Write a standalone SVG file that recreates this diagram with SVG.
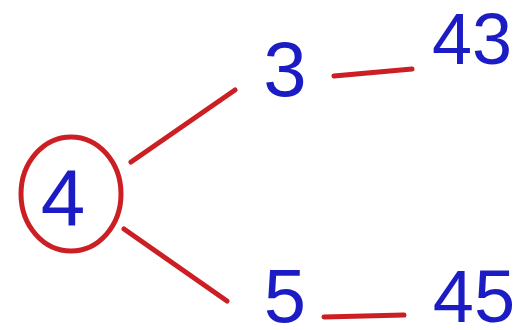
<svg xmlns="http://www.w3.org/2000/svg" width="520" height="330" viewBox="0 0 520 330">
<style>
.t{font-family:"Liberation Sans",Arial,sans-serif;fill:#1c1cc4;text-anchor:middle}
.c{stroke:#cc1f24;stroke-width:5;stroke-linecap:round;fill:none}
</style>
<rect width="520" height="330" fill="#ffffff"/>
<g id="connectors">
<line class="c" x1="131" y1="162" x2="235" y2="90"/>
<line class="c" x1="124" y1="229" x2="227" y2="301"/>
<line class="c" x1="334" y1="76" x2="412" y2="69"/>
<line class="c" x1="324" y1="317" x2="404" y2="315"/>
</g>
<g id="n4">
<ellipse class="c" cx="71" cy="194" rx="50" ry="57" stroke-width="4"/>
<text class="t" x="63" y="225" font-size="80">4</text>
</g>
<g id="n3"><text class="t" x="285" y="96" font-size="78">3</text></g>
<g id="n5"><text class="t" x="285" y="322" font-size="76">5</text></g>
<g id="n43"><text class="t" x="472" y="64" font-size="72">43</text></g>
<g id="n45"><text class="t" x="474" y="322" font-size="74">45</text></g>
</svg>
